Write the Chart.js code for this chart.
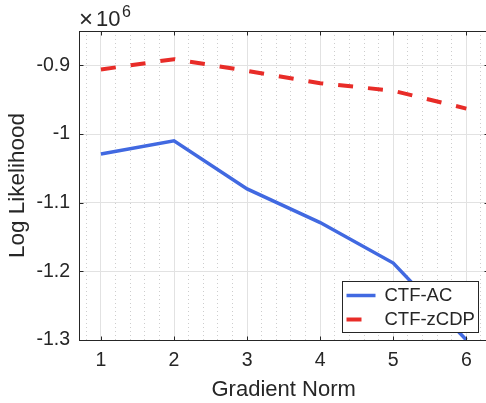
<!DOCTYPE html>
<html>
<head>
  <meta charset="utf-8">
  <title>Log Likelihood vs Gradient Norm</title>
  <script src="https://cdn.jsdelivr.net/npm/chart.js"></script>
  <style>
    html, body { margin: 0; padding: 0; background: #fff; overflow: hidden; }
    #wrap { width: 490px; height: 403px; }
  </style>
</head>
<body>
  <div id="wrap"><canvas id="chart" width="490" height="403"></canvas></div>

  <script>
    // gradient norm values on the x axis
    const gradNorm = [1, 2, 3, 4, 5, 6];
    // log likelihood for each method
    const ctfAC   = [-1.029e6, -1.010e6, -1.080e6, -1.129e6, -1.188e6, -1.300e6];
    const ctfZCDP = [-0.906e6, -0.891e6, -0.908e6, -0.926e6, -0.937e6, -0.963e6];
    const seriesNames = ['CTF-AC', 'CTF-zCDP'];

    const xTicks = [1, 2, 3, 4, 5, 6];
    const yTicks = [-1.3e6, -1.2e6, -1.1e6, -1.0e6, -0.9e6];

    const FONT = "'Liberation Sans', Arial, Helvetica, sans-serif";
    const INK = 'rgb(38,38,38)';
    const BLUE = 'rgb(65,105,225)';
    const RED = 'rgb(232,44,40)';

    const isMajor = v => Math.abs(v - Math.round(v)) < 1e-6;

    // minor x grid every 0.2 between the integer ticks
    const xMinor = [];
    for (let v = 0.8; v < 6.25; v += 0.2) xMinor.push(Math.round(v * 10) / 10);

    // matlab-like box, inward ticks, exponent label and legend
    const matlabAxes = {
      id: 'matlabAxes',
      afterDatasetsDraw(chart) {
        const { ctx, chartArea: ca, scales } = chart;
        const x = scales.x, y = scales.y;
        const L = Math.round(ca.left) + 0.5, R = Math.round(ca.right) + 0.5;
        const T = Math.round(ca.top) + 0.5, B = Math.round(ca.bottom) + 0.5;
        ctx.save();
        ctx.strokeStyle = INK;
        ctx.lineWidth = 1;
        ctx.setLineDash([]);
        ctx.strokeRect(L, T, R - L, B - T);

        const tl = 4;
        ctx.beginPath();
        xTicks.forEach(v => {
          const px = Math.round(x.getPixelForValue(v)) + 0.5;
          ctx.moveTo(px, B); ctx.lineTo(px, B - tl);
          ctx.moveTo(px, T); ctx.lineTo(px, T + tl);
        });
        yTicks.forEach(v => {
          const py = Math.round(y.getPixelForValue(v)) + 0.5;
          ctx.moveTo(L, py); ctx.lineTo(L + tl, py);
          ctx.moveTo(R, py); ctx.lineTo(R - tl, py);
        });
        ctx.stroke();

        // x10^6 exponent above the y axis
        ctx.fillStyle = INK;
        ctx.textBaseline = 'alphabetic';
        ctx.textAlign = 'left';
        ctx.font = `24px ${FONT}`;
        ctx.fillText('\u00d7', ca.left, 27);
        ctx.font = `22px ${FONT}`;
        ctx.fillText('10', ca.left + 17, 26);
        ctx.font = `16px ${FONT}`;
        ctx.fillText('6', ca.left + 43, 17);

        // legend box in the lower right corner
        const bw = 136, bh = 51;
        const bx = Math.round(ca.right) - 146 + 0.5, by = Math.round(ca.bottom) - 59 + 0.5;
        ctx.fillStyle = '#fff';
        ctx.fillRect(bx, by, bw, bh);
        ctx.strokeStyle = INK;
        ctx.strokeRect(bx, by, bw, bh);
        chart.data.datasets.forEach((ds, i) => {
          const ly = by + 14 + i * 24;
          // dashed series shows a single dash in the key
          const len = ds.borderDash ? 15 : 29;
          ctx.save();
          ctx.strokeStyle = ds.borderColor;
          ctx.lineWidth = ds.borderWidth;
          ctx.beginPath();
          ctx.moveTo(bx + 4, ly);
          ctx.lineTo(bx + 4 + len, ly);
          ctx.stroke();
          ctx.restore();
          ctx.fillStyle = INK;
          ctx.font = `18.5px ${FONT}`;
          ctx.textBaseline = 'middle';
          ctx.fillText(ds.label, bx + 42, ly);
        });
        ctx.restore();
      }
    };

    window.onload = () => {
      const ctx = document.getElementById('chart').getContext('2d');
      new Chart(ctx, {
        type: 'line',
        data: {
          datasets: [{
            label: seriesNames[0],
            data: gradNorm.map((g, i) => ({ x: g, y: ctfAC[i] })),
            borderColor: BLUE,
            borderWidth: 3.5,
            pointRadius: 0,
            fill: false,
            tension: 0
          }, {
            label: seriesNames[1],
            data: gradNorm.map((g, i) => ({ x: g, y: ctfZCDP[i] })),
            borderColor: RED,
            borderWidth: 4,
            borderDash: [15, 15],
            pointRadius: 0,
            fill: false,
            tension: 0
          }]
        },
        options: {
          responsive: false,
          animation: false,
          events: [],
          layout: { padding: { top: 31, right: 1, left: 0, bottom: 0 } },
          plugins: { legend: { display: false }, tooltip: { enabled: false } },
          scales: {
            x: {
              type: 'linear',
              min: 0.7,
              max: 6.3,
              afterBuildTicks: s => { s.ticks = xMinor.map(v => ({ value: v })); },
              afterFit: s => { s.height = 63; },
              grid: {
                drawTicks: false,
                color: c => isMajor(c.tick.value) ? '#e2e2e2' : '#cdcdcd'
              },
              border: {
                display: false,
                dash: c => (c.tick && !isMajor(c.tick.value)) ? [1, 3] : []
              },
              ticks: {
                autoSkip: false,
                maxRotation: 0,
                padding: 9,
                color: INK,
                font: { family: FONT, size: 19.5 },
                callback: v => isMajor(v) ? String(Math.round(v)) : ''
              },
              title: {
                display: true,
                text: 'Gradient Norm',
                color: INK,
                font: { family: FONT, size: 22 },
                padding: { top: 0, bottom: 0 }
              }
            },
            y: {
              min: -1.3e6,
              max: -0.85e6,
              afterBuildTicks: s => { s.ticks = yTicks.map(v => ({ value: v })); },
              afterFit: s => { s.width = 79; },
              grid: { drawTicks: false, color: '#e2e2e2' },
              border: { display: false },
              ticks: {
                padding: 9,
                color: INK,
                font: { family: FONT, size: 19.5 },
                callback: v => String(Math.round(v / 1e5) / 10)
              },
              title: {
                display: true,
                text: 'Log Likelihood',
                color: INK,
                font: { family: FONT, size: 22.5 },
                padding: { top: 4, bottom: 0 }
              }
            }
          }
        },
        plugins: [matlabAxes]
      });
    };
  </script>
</body>
</html>
